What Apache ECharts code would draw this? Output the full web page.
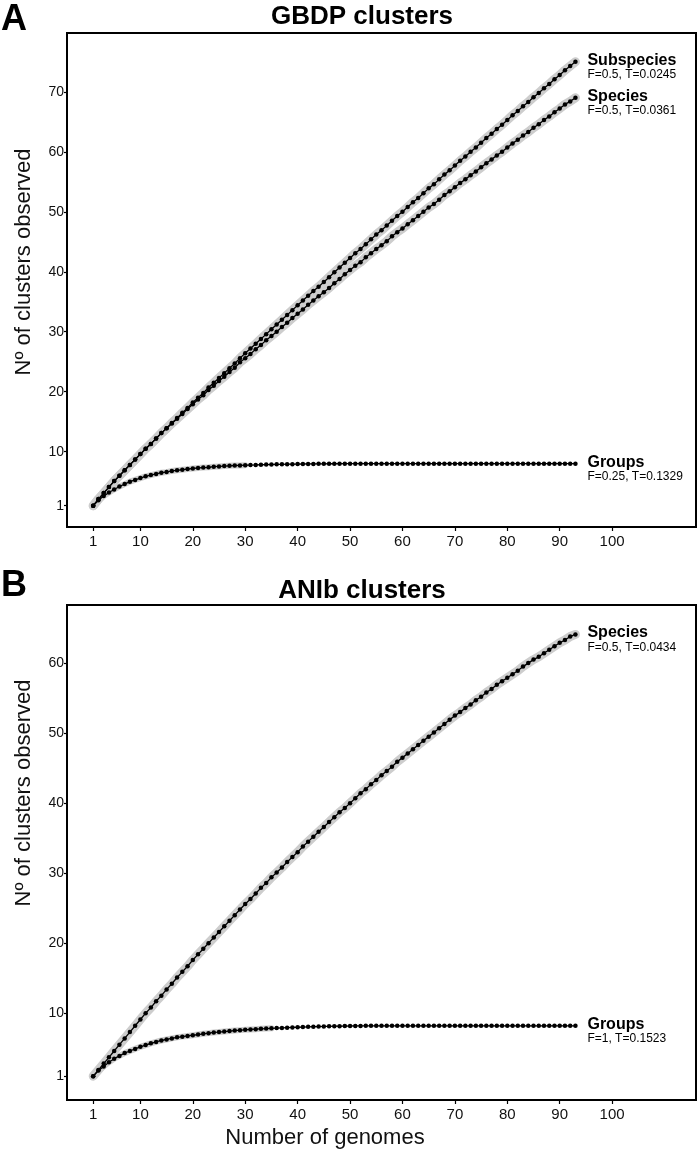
<!DOCTYPE html>
<html>
<head>
<meta charset="utf-8">
<script src="https://cdn.jsdelivr.net/npm/echarts@6.0.0/dist/echarts.min.js"></script>
<style>
  html, body { margin: 0; padding: 0; background: #fff; }
  #main { width: 698px; height: 1152px; }
</style>
</head>
<body>
<div id="main"></div>
<script>
// tick labels
const xTicks = [1, 10, 20, 30, 40, 50, 60, 70, 80, 90, 100];
const yTicksA = [1, 10, 20, 30, 40, 50, 60, 70];
const yTicksB = [1, 10, 20, 30, 40, 50, 60];

// panel A - GBDP, clusters observed for 1..93 genomes
const gbdpSubspecies = [
  1.0, 2.1, 3.1, 4.1, 5.1, 6.0, 6.9, 7.8, 8.7, 9.6,
  10.5, 11.3, 12.2, 13.1, 13.9, 14.8, 15.6, 16.5, 17.3, 18.2,
  19.0, 19.8, 20.7, 21.5, 22.3, 23.1, 23.9, 24.7, 25.6, 26.4,
  27.2, 28.0, 28.8, 29.6, 30.4, 31.2, 32.0, 32.8, 33.6, 34.4,
  35.2, 36.0, 36.8, 37.5, 38.3, 39.1, 39.9, 40.7, 41.5, 42.3,
  43.1, 43.8, 44.6, 45.4, 46.2, 46.9, 47.7, 48.5, 49.3, 50.0,
  50.8, 51.6, 52.3, 53.1, 53.9, 54.6, 55.4, 56.2, 56.9, 57.7,
  58.5, 59.2, 60.0, 60.7, 61.5, 62.3, 63.0, 63.8, 64.5, 65.3,
  66.1, 66.8, 67.6, 68.3, 69.1, 69.8, 70.6, 71.3, 72.1, 72.8,
  73.6, 74.3, 75.0
];
const gbdpSpecies = [
  1.0, 2.1, 3.1, 4.1, 5.1, 6.0, 6.9, 7.8, 8.7, 9.6,
  10.5, 11.3, 12.2, 13.1, 13.9, 14.7, 15.5, 16.3, 17.1, 17.9,
  18.7, 19.4, 20.3, 21.0, 21.8, 22.5, 23.3, 24.0, 24.9, 25.6,
  26.3, 27.1, 27.8, 28.6, 29.3, 30.0, 30.8, 31.5, 32.3, 33.0,
  33.7, 34.5, 35.2, 35.9, 36.6, 37.3, 38.1, 38.8, 39.6, 40.3,
  41.0, 41.6, 42.4, 43.1, 43.8, 44.4, 45.1, 45.9, 46.6, 47.2,
  47.9, 48.6, 49.3, 50.0, 50.7, 51.3, 52.0, 52.8, 53.4, 54.1,
  54.8, 55.4, 56.1, 56.7, 57.4, 58.1, 58.7, 59.4, 60.0, 60.7,
  61.4, 62.0, 62.7, 63.3, 64.0, 64.6, 65.3, 65.9, 66.6, 67.2,
  67.9, 68.4, 69.0
];
const gbdpGroups = [
  1.0, 1.9, 2.6, 3.2, 3.7, 4.2, 4.6, 5.0, 5.3, 5.6,
  5.9, 6.1, 6.3, 6.5, 6.6, 6.8, 6.9, 7.0, 7.1, 7.2,
  7.3, 7.35, 7.4, 7.5, 7.55, 7.6, 7.65, 7.7, 7.72, 7.75,
  7.78, 7.8, 7.83, 7.85, 7.87, 7.89, 7.9, 7.92, 7.93, 7.94,
  7.95, 7.96, 7.97, 7.98, 7.98, 7.99, 7.99, 8.0, 8.0, 8.0,
  8.0, 8.0, 8.0, 8.0, 8.0, 8.0, 8.0, 8.0, 8.0, 8.0,
  8.0, 8.0, 8.0, 8.0, 8.0, 8.0, 8.0, 8.0, 8.0, 8.0,
  8.0, 8.0, 8.0, 8.0, 8.0, 8.0, 8.0, 8.0, 8.0, 8.0,
  8.0, 8.0, 8.0, 8.0, 8.0, 8.0, 8.0, 8.0, 8.0, 8.0,
  8.0, 8.0, 8.0
];

// panel B - ANIb
const anibSpecies = [
  1.0, 1.9, 2.8, 3.7, 4.6, 5.5, 6.4, 7.3, 8.2, 9.1,
  10.0, 10.8, 11.7, 12.5, 13.4, 14.2, 15.1, 15.9, 16.7, 17.6,
  18.4, 19.2, 20.0, 20.8, 21.6, 22.4, 23.2, 24.0, 24.8, 25.6,
  26.3, 27.1, 27.9, 28.6, 29.4, 30.1, 30.8, 31.6, 32.3, 33.0,
  33.8, 34.5, 35.2, 35.9, 36.6, 37.3, 38.0, 38.7, 39.3, 40.0,
  40.7, 41.4, 42.0, 42.7, 43.3, 44.0, 44.6, 45.2, 45.9, 46.5,
  47.1, 47.7, 48.3, 48.9, 49.5, 50.1, 50.7, 51.3, 51.9, 52.5,
  53.0, 53.6, 54.1, 54.7, 55.2, 55.8, 56.3, 56.9, 57.4, 57.9,
  58.4, 58.9, 59.5, 60.0, 60.5, 60.9, 61.4, 61.9, 62.4, 62.9,
  63.3, 63.8, 64.1
];
const anibGroups = [
  1.0, 1.8, 2.4, 3.0, 3.5, 3.9, 4.3, 4.6, 4.9, 5.2,
  5.45, 5.7, 5.9, 6.1, 6.25, 6.4, 6.55, 6.65, 6.75, 6.85,
  6.95, 7.05, 7.15, 7.25, 7.3, 7.38, 7.45, 7.52, 7.58, 7.63,
  7.68, 7.72, 7.76, 7.8, 7.84, 7.87, 7.9, 7.93, 7.96, 7.99,
  8.02, 8.05, 8.07, 8.09, 8.11, 8.13, 8.14, 8.15, 8.16, 8.17,
  8.18, 8.18, 8.19, 8.19, 8.2, 8.2, 8.2, 8.2, 8.2, 8.2,
  8.2, 8.2, 8.2, 8.2, 8.2, 8.2, 8.2, 8.2, 8.2, 8.2,
  8.2, 8.2, 8.2, 8.2, 8.2, 8.2, 8.2, 8.2, 8.2, 8.2,
  8.2, 8.2, 8.2, 8.2, 8.2, 8.2, 8.2, 8.2, 8.2, 8.2,
  8.2, 8.2, 8.2
];

const FONT = "'Liberation Sans', Arial, Helvetica, sans-serif";
const chart = echarts.init(document.getElementById("main"));

// one curve = grey spread underneath + black dotted line on top
function curve(values, idx, name, params, bandEnd, bandWidth) {
  const pts = values.map((v, i) => [i + 1, v]);
  return [
    {
      type: "line",
      xAxisIndex: idx,
      yAxisIndex: idx,
      data: pts.map((p) => (p[0] <= bandEnd ? p : [p[0], null])),
      showSymbol: false,
      lineStyle: { color: "#cdcdcd", width: bandWidth, cap: "round", join: "round" },
      silent: true,
      z: 1,
    },
    {
      type: "line",
      name: name,
      xAxisIndex: idx,
      yAxisIndex: idx,
      data: pts,
      showSymbol: true,
      showAllSymbol: true,
      symbol: "circle",
      symbolSize: 4.5,
      itemStyle: { color: "#000" },
      lineStyle: { color: "#000", width: 1.3 },
      z: 3,
      endLabel: {
        show: true,
        distance: 12,
        offset: [0, 5],
        formatter: "{a|" + name + "}\n{b|" + params + "}",
        rich: {
          a: { fontFamily: FONT, fontWeight: "bold", fontSize: 16, lineHeight: 16, color: "#000" },
          b: { fontFamily: FONT, fontSize: 12, lineHeight: 13, color: "#000" },
        },
      },
    },
  ];
}

function xAxis(idx) {
  return {
    type: "value",
    gridIndex: idx,
    min: -4,
    max: 116,
    axisLine: { show: false, onZero: false },
    splitLine: { show: false },
    axisTick: { show: true, customValues: xTicks, length: 4, lineStyle: { color: "#000", width: 1.2 } },
    axisLabel: { customValues: xTicks, margin: 7, fontSize: 15, color: "#111", fontFamily: FONT },
  };
}

function yAxis(idx, min, max, ticks) {
  return {
    type: "value",
    gridIndex: idx,
    min: min,
    max: max,
    axisLine: { show: false, onZero: false },
    splitLine: { show: false },
    axisTick: { show: true, customValues: ticks, length: 3, lineStyle: { color: "#000", width: 1.2 } },
    axisLabel: { customValues: ticks, margin: 3, fontSize: 14, color: "#111", fontFamily: FONT },
  };
}

const gridStyle = { show: true, borderColor: "#000", borderWidth: 2, backgroundColor: "#fff" };

chart.setOption({
  animation: false,
  backgroundColor: "#fff",
  grid: [
    Object.assign({ left: 67, right: 2, top: 33, height: 494 }, gridStyle),
    Object.assign({ left: 67, right: 2, top: 605, height: 495 }, gridStyle),
  ],
  xAxis: [xAxis(0), xAxis(1)],
  yAxis: [yAxis(0, -2.55, 79.8, yTicksA), yAxis(1, -2.4, 68.3, yTicksB)],
  series: [
    ...curve(gbdpSubspecies, 0, "Subspecies", "F=0.5, T=0.0245", 93, 9),
    ...curve(gbdpSpecies, 0, "Species", "F=0.5, T=0.0361", 93, 9),
    ...curve(gbdpGroups, 0, "Groups", "F=0.25, T=0.1329", 30, 6),
    ...curve(anibSpecies, 1, "Species", "F=0.5, T=0.0434", 93, 9),
    ...curve(anibGroups, 1, "Groups", "F=1, T=0.1523", 35, 6),
  ],
  graphic: [
    { type: "text", left: 1, top: 2, style: { text: "A", font: "bold 36px " + FONT, fill: "#000" } },
    { type: "text", left: 1, top: 568, style: { text: "B", font: "bold 36px " + FONT, fill: "#000" } },
    { type: "text", x: 362, y: 17, style: { text: "GBDP clusters", font: "bold 26px " + FONT, fill: "#000", align: "center", verticalAlign: "middle" } },
    { type: "text", x: 362, y: 591, style: { text: "ANIb clusters", font: "bold 26px " + FONT, fill: "#000", align: "center", verticalAlign: "middle" } },
    { type: "text", x: 24, y: 262, rotation: Math.PI / 2, style: { text: "Nº of clusters observed", font: "22px " + FONT, fill: "#111", align: "center", verticalAlign: "middle" } },
    { type: "text", x: 24, y: 793, rotation: Math.PI / 2, style: { text: "Nº of clusters observed", font: "22px " + FONT, fill: "#111", align: "center", verticalAlign: "middle" } },
    { type: "text", x: 325, y: 1138, style: { text: "Number of genomes", font: "22px " + FONT, fill: "#111", align: "center", verticalAlign: "middle" } },
  ],
});
</script>
</body>
</html>
